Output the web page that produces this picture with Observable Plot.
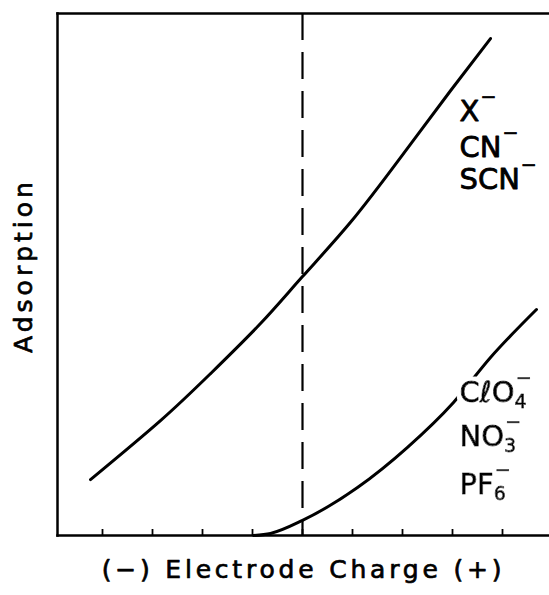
<!DOCTYPE html>
<html><head><meta charset="utf-8">
<script src="https://cdn.jsdelivr.net/npm/d3@7"></script>
<script src="https://cdn.jsdelivr.net/npm/@observablehq/plot@0.6"></script>
<style>body{margin:0;background:#fff}</style>
</head><body><div id="chart"></div>
<script>
// Electrode charge (relative units, 0 = point of zero charge) vs adsorption
const upperX = [-4.24, -2.84, -1.84, -0.84, 0, 0.96, 1.96, 2.96, 3.76];
const upperY = [1.07, 2.20, 3.10, 4.06, 4.96, 6.0, 7.24, 8.52, 9.52];
const lowerX = [-0.98, -0.64, 0, 1.1, 2.1, 3.02, 3.76, 4.68];
const lowerY = [0, 0.04, 0.29, 0.92, 1.69, 2.55, 3.41, 4.33];
const xTicks = [-4, -3, -2, -1, 0, 1, 2, 3, 4];
const pzc = [0];
const upperIonBase = ["X", "CN", "SCN"];
const upperIonSub = ["", "", ""];
const upperIonX = [3.14, 3.14, 3.14];
const upperIonY = [7.95, 7.26, 6.63];
const lowerIonBase = ["CℓO", "NO", "PF"];
const lowerIonSub = ["4", "3", "6"];
const lowerIonX = [3.14, 3.14, 3.14];
const lowerIonY = [2.55, 1.72, 0.80];
const xLabel = "(−) Electrode Charge (+)";
const yLabel = "Adsorption";

const upper = upperX.map((x, i) => ({x, y: upperY[i]}));
const lower = lowerX.map((x, i) => ({x, y: lowerY[i]}));
const upperIons = upperIonBase.map((t, i) => ({t, x: upperIonX[i], y: upperIonY[i]}));
const lowerIons = lowerIonBase.map((t, i) => ({t, x: lowerIonX[i], y: lowerIonY[i]}));

const ionOpts = {x: "x", y: "y", text: "t", textAnchor: "start", lineAnchor: "bottom", fontSize: 29,
  fill: "black", stroke: "black", strokeWidth: 0.8};

const chart = Plot.plot({
  width: 549, height: 595,
  marginLeft: 57, marginRight: 0, marginTop: 13, marginBottom: 60,
  style: {fontFamily: "DejaVu Sans", background: "white", color: "black"},
  x: {domain: [-4.9, 4.94]},
  y: {domain: [0, 10], axis: null},
  marks: [
    Plot.frame({anchor: "left", strokeWidth: 2.5}),
    Plot.frame({anchor: "top", strokeWidth: 2.5}),
    Plot.frame({anchor: "bottom", strokeWidth: 2.5}),
    Plot.axisX({ticks: xTicks, tickSize: -6, tickFormat: () => "", label: null, strokeWidth: 1.8}),
    Plot.ruleX(pzc, {strokeWidth: 2.2, strokeDasharray: "27,12"}),
    Plot.line(upper, {x: "x", y: "y", curve: "natural", strokeWidth: 3}),
    Plot.line(lower, {x: "x", y: "y", curve: "monotone-x", strokeWidth: 3}),
    Plot.text(upperIons, {...ionOpts, className: "ionU"}),
    Plot.text(lowerIons, {...ionOpts, className: "ionL"}),
    Plot.text([xLabel], {text: d => d, frameAnchor: "bottom", dy: 34, lineAnchor: "middle",
      fontSize: 25, fill: "black", stroke: "black", strokeWidth: 0.7, className: "xlab"}),
    Plot.text([yLabel], {text: d => d, frameAnchor: "left", rotate: -90, dx: -34, dy: -9,
      textAnchor: "middle", lineAnchor: "middle", fontSize: 25, fill: "black", stroke: "black",
      strokeWidth: 0.7, className: "ylab"})
  ]
});
document.getElementById("chart").appendChild(chart);

// white halo behind the lower labels (the curve is interrupted at the label)
const svg = d3.select(chart);
const f = svg.append("defs").append("filter").attr("id", "halo")
  .attr("x", "-20%").attr("y", "-30%").attr("width", "140%").attr("height", "160%");
f.append("feMorphology").attr("in", "SourceAlpha").attr("operator", "dilate").attr("radius", 3.5).attr("result", "d");
f.append("feFlood").attr("flood-color", "white");
f.append("feComposite").attr("in2", "d").attr("operator", "in").attr("result", "w");
const m = f.append("feMerge");
m.append("feMergeNode").attr("in", "w");
m.append("feMergeNode").attr("in", "SourceGraphic");
svg.selectAll("g.ionL").attr("filter", "url(#halo)");

function decorate(cls, subs) {
  svg.selectAll(`g.${cls} text`).each(function(i) {
    const t = d3.select(this);
    const sub = subs[i];
    if (sub) t.append("tspan").attr("dy", 6).attr("font-size", 19).text(sub);
    t.append("tspan").attr("dx", sub ? -11 : 1).attr("dy", sub ? -24 : -18).attr("font-size", 19).text("−");
  });
}
decorate("ionU", upperIonSub);
decorate("ionL", lowerIonSub);
svg.selectAll("g.xlab text").attr("letter-spacing", 3.8);
svg.selectAll("g.ylab text").attr("letter-spacing", 4);
</script>
</body></html>
